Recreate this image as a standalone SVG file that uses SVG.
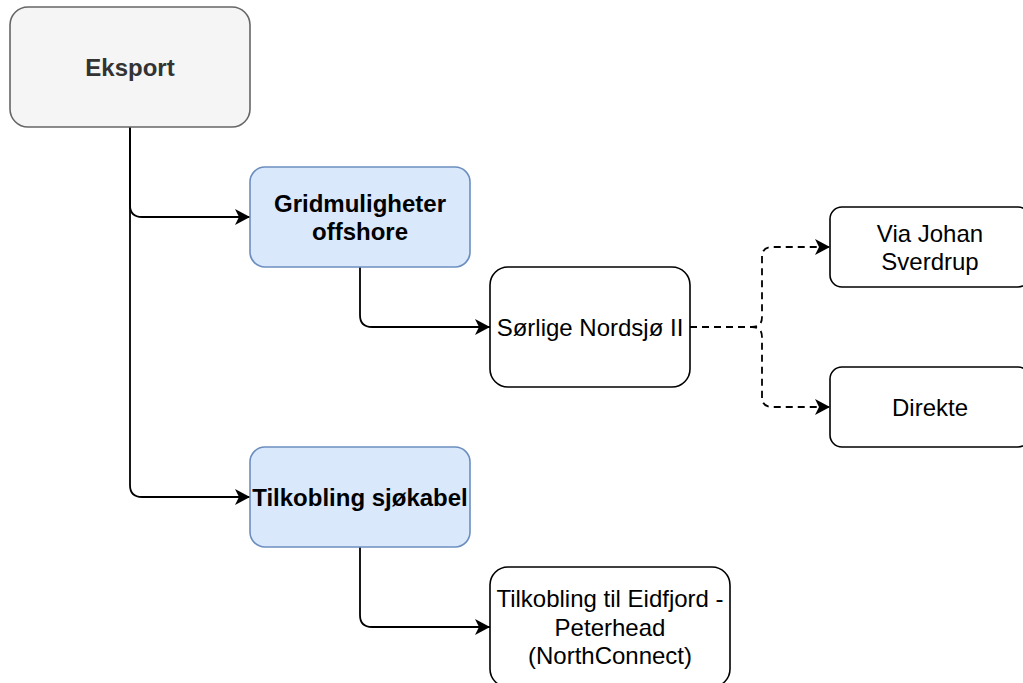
<svg xmlns="http://www.w3.org/2000/svg" width="1023" height="683" viewBox="0 0 1023 683">
  <style>
    .lbl { font-family: "Liberation Sans", Arial, Helvetica, sans-serif; font-size: 24px; text-anchor: middle; fill: #000000; }
    .bold { font-weight: bold; }
    .grey { fill: #f5f5f5; stroke: #666666; stroke-width: 1.6; }
    .blue { fill: #dae8fc; stroke: #6c8ebf; stroke-width: 1.6; }
    .plain { fill: #ffffff; stroke: #000000; stroke-width: 1.6; }
    .edge { fill: none; stroke: #000000; stroke-width: 1.8; }
    .dashed { stroke-dasharray: 7 5; }
  </style>
  <defs>
    <marker id="arrow" viewBox="0 0 15 16" markerWidth="15" markerHeight="16" refX="15" refY="8" orient="auto" markerUnits="userSpaceOnUse">
      <path d="M0,0 L15,8 L0,16 L4,8 Z" fill="#000000" stroke="none"/>
    </marker>
  </defs>

  <rect width="1023" height="683" fill="#ffffff"/>

  <!-- connectors -->
  <g id="connectors">
    <path class="edge" d="M130,127 L130,205 Q130,217 142,217 L250,217" marker-end="url(#arrow)"/>
    <path class="edge" d="M130,127 L130,485 Q130,497 142,497 L250,497" marker-end="url(#arrow)"/>
    <path class="edge" d="M360,267 L360,315 Q360,327 372,327 L490,327" marker-end="url(#arrow)"/>
    <path class="edge" d="M360,547 L360,615 Q360,627 372,627 L490,627" marker-end="url(#arrow)"/>
    <path class="edge dashed" d="M690,327 L752,327 Q762,327 762,317 L762,257 Q762,247 772,247 L830,247" marker-end="url(#arrow)"/>
    <path class="edge dashed" d="M690,327 L752,327 Q762,327 762,337 L762,397 Q762,407 772,407 L830,407" marker-end="url(#arrow)"/>
  </g>

  <!-- nodes -->
  <g id="eksport">
    <rect class="grey" x="10" y="7" width="240" height="120" rx="18" ry="18"/>
    <text class="lbl bold" x="130" y="76" style="fill:#333333">Eksport</text>
  </g>

  <g id="gridmuligheter">
    <rect class="blue" x="250" y="167" width="220" height="100" rx="15" ry="15"/>
    <text class="lbl bold" x="360" y="211.5">Gridmuligheter</text>
    <text class="lbl bold" x="360" y="240">offshore</text>
  </g>

  <g id="sorlige-nordsjo">
    <rect class="plain" x="490" y="267" width="200" height="120" rx="18" ry="18"/>
    <text class="lbl" x="590" y="335.5">Sørlige Nordsjø II</text>
  </g>

  <g id="via-johan-sverdrup">
    <rect class="plain" x="830" y="207" width="200" height="80" rx="12" ry="12"/>
    <text class="lbl" x="930" y="241.5">Via Johan</text>
    <text class="lbl" x="930" y="270">Sverdrup</text>
  </g>

  <g id="direkte">
    <rect class="plain" x="830" y="367" width="200" height="80" rx="12" ry="12"/>
    <text class="lbl" x="930" y="415.5">Direkte</text>
  </g>

  <g id="tilkobling-sjokabel">
    <rect class="blue" x="250" y="447" width="220" height="100" rx="15" ry="15"/>
    <text class="lbl bold" x="360" y="505.5">Tilkobling sjøkabel</text>
  </g>

  <g id="northconnect">
    <rect class="plain" x="490" y="567" width="240" height="120" rx="18" ry="18"/>
    <text class="lbl" x="610" y="607">Tilkobling til Eidfjord -</text>
    <text class="lbl" x="610" y="635.5">Peterhead</text>
    <text class="lbl" x="610" y="664">(NorthConnect)</text>
  </g>
</svg>
